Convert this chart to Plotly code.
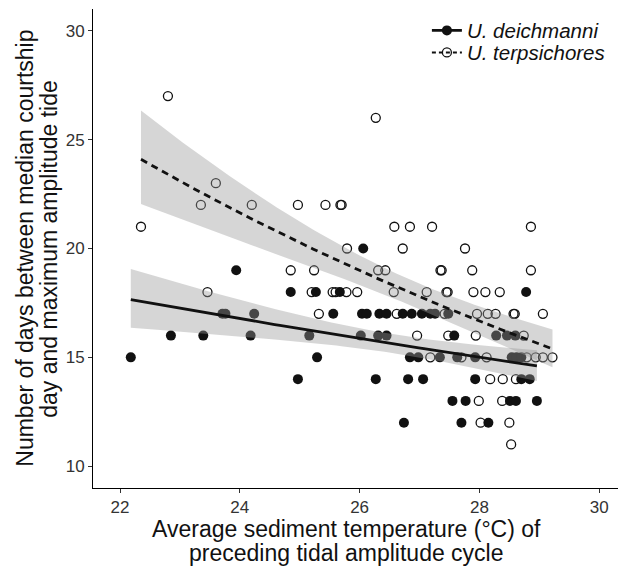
import numpy as np
import plotly.graph_objects as go

# ---- data ----
deich_temp = [22.18, 22.85, 23.39, 23.71, 23.76, 23.94, 24.18, 24.24, 24.85, 24.97,
              25.16, 25.27, 25.29, 25.56, 25.67, 26.02, 26.04, 26.12, 26.06, 26.27,
              26.31, 26.45, 26.33, 26.45, 26.74, 26.72, 26.87, 26.81, 26.84, 26.98,
              27.06, 27.04, 27.18, 27.26, 27.48, 27.34, 27.55, 27.58, 27.63, 27.70,
              27.77, 27.93, 27.93, 28.15, 28.28, 28.46, 28.51, 28.54, 28.62, 28.70,
              28.60, 28.61, 28.70, 28.84, 28.78, 28.96]
deich_days = [15, 16, 16, 17, 17, 19, 16, 17, 18, 14,
              16, 18, 15, 17, 18, 16, 17, 17, 20, 14,
              16, 16, 17, 17, 12, 17, 17, 14, 15, 15,
              14, 17, 17, 17, 17, 15, 13, 16, 15, 12,
              13, 15, 14, 12, 16, 16, 13, 15, 15, 15,
              16, 13, 14, 14, 18, 13]

terp_temp = [22.80, 22.35, 23.60, 23.35, 24.20, 23.46, 26.27, 24.97, 25.43, 25.68,
             25.70, 26.58, 26.84, 27.21, 25.79, 26.72, 24.85, 25.24, 26.31, 26.43,
             27.35, 27.37, 25.20, 25.55, 25.60, 25.78, 25.96, 26.57, 27.12, 27.45,
             27.47, 25.32, 26.62, 27.42, 26.96, 27.48, 27.18, 28.86, 27.76, 27.88,
             28.86, 27.90, 28.10, 28.34, 27.96, 28.14, 28.27, 28.57, 28.59, 29.06,
             27.94, 28.74, 27.70, 28.12, 28.79, 28.94, 29.06, 29.22, 28.18, 28.39,
             28.61, 27.99, 28.38, 28.02, 28.50, 28.53]
terp_days = [27, 21, 23, 22, 22, 18, 26, 22, 22, 22,
             22, 21, 21, 21, 20, 20, 19, 19, 19, 19,
             19, 19, 18, 18, 18, 18, 18, 18, 18, 18,
             18, 17, 17, 17, 16, 16, 15, 21, 20, 19,
             19, 18, 18, 18, 17, 17, 17, 17, 17, 17,
             16, 16, 15, 15, 15, 15, 15, 15, 14, 14,
             14, 13, 13, 12, 12, 11]

species = ["U. deichmanni", "U. terpsichores"]
x_ticks = [22, 24, 26, 28, 30]
y_ticks = [10, 15, 20, 25, 30]
x_title = ["Average sediment temperature (°C) of", "preceding tidal amplitude cycle"]
y_title = ["Number of days between median courtship", "day and maximum amplitude tide"]

FONT = "Liberation Sans, Arial, sans-serif"


def quasipoisson_band(x, y, n_grid=80, z=1.959964):
    """Quasi-Poisson GLM (log link) fitted by IRLS, 95% CI built on the link scale."""
    x = np.asarray(x, float)
    y = np.asarray(y, float)
    n = len(x)
    X = np.column_stack([np.ones_like(x), x])
    beta = np.array([np.log(y.mean()), 0.0])
    for _ in range(100):
        eta = X @ beta
        mu = np.exp(eta)
        zz = eta + (y - mu) / mu
        XtW = X.T * mu
        beta_new = np.linalg.solve(XtW @ X, XtW @ zz)
        done = np.max(np.abs(beta_new - beta)) < 1e-12
        beta = beta_new
        if done:
            break
    mu = np.exp(X @ beta)
    phi = np.sum((y - mu) ** 2 / mu) / (n - 2)
    cov = phi * np.linalg.inv((X.T * mu) @ X)
    xs = np.linspace(x.min(), x.max(), n_grid)
    G = np.column_stack([np.ones_like(xs), xs])
    eta_g = G @ beta
    se = np.sqrt(np.einsum("ij,jk,ik->i", G, cov, G))
    return xs, np.exp(eta_g), np.exp(eta_g - z * se), np.exp(eta_g + z * se)


fig = go.Figure()

# points
fig.add_trace(go.Scatter(x=deich_temp, y=deich_days, mode="markers", showlegend=False,
                         marker=dict(symbol="circle", size=10, color="#111111", line=dict(width=0))))
fig.add_trace(go.Scatter(x=terp_temp, y=terp_days, mode="markers", showlegend=False,
                         marker=dict(symbol="circle-open", size=9, color="#111111", line=dict(width=1.3))))

fits = [quasipoisson_band(deich_temp, deich_days), quasipoisson_band(terp_temp, terp_days)]

# confidence bands (drawn over the points, like ggplot)
for xs, fit, lo, hi in fits:
    fig.add_trace(go.Scatter(x=np.concatenate([xs, xs[::-1]]), y=np.concatenate([hi, lo[::-1]]),
                             fill="toself", fillcolor="rgba(153,153,153,0.4)", mode="lines",
                             line=dict(width=0), hoverinfo="skip", showlegend=False))

# fit lines
dashes = ["solid", "7px,5px"]
for (xs, fit, lo, hi), d in zip(fits, dashes):
    fig.add_trace(go.Scatter(x=xs, y=fit, mode="lines", showlegend=False,
                             line=dict(color="#111111", width=2.8, dash=d)))

# legend entries (two legends so the row spacing can be tight)
fig.add_trace(go.Scatter(x=[None], y=[None], mode="lines+markers", name=species[0], legend="legend",
                         line=dict(color="#111111", width=2.8, dash="solid"),
                         marker=dict(symbol="circle", size=10, color="#111111")))
fig.add_trace(go.Scatter(x=[None], y=[None], mode="lines+markers", name=species[1], legend="legend2",
                         line=dict(color="#111111", width=2.0, dash="4px,3px"),
                         marker=dict(symbol="circle-open", size=9, color="#111111", line=dict(width=1.3))))

axis_common = dict(showline=True, linecolor="black", linewidth=1, ticks="outside", ticklen=4,
                   tickcolor="#333333", tickwidth=1, showgrid=False, zeroline=False,
                   tickfont=dict(family=FONT, size=17, color="#333333"))

legend_font = dict(family=FONT, size=20.5, color="#111111", style="italic")
fig.update_layout(
    width=620, height=573,
    margin=dict(l=93, r=2, t=9, b=85),
    paper_bgcolor="white", plot_bgcolor="white",
    font=dict(family=FONT, color="#111111"),
    xaxis=dict(range=[21.549, 30.314], tickvals=x_ticks, **axis_common),
    yaxis=dict(range=[9.0, 31.0], tickvals=y_ticks, **axis_common),
    legend=dict(x=0.636, y=0.955, xanchor="left", yanchor="middle", bgcolor="rgba(0,0,0,0)",
                font=legend_font, itemwidth=30),
    legend2=dict(x=0.636, y=0.909, xanchor="left", yanchor="middle", bgcolor="rgba(0,0,0,0)",
                 font=legend_font, itemwidth=30),
)

# axis titles as separate lines (tight line spacing)
for i, txt in enumerate(x_title):
    fig.add_annotation(text=txt, xref="paper", yref="paper", x=0.4838, y=-0.0866 - 0.0501 * i,
                       xanchor="center", yanchor="middle", showarrow=False,
                       font=dict(family=FONT, size=23, color="#111111"))
for i, txt in enumerate(y_title):
    fig.add_annotation(text=txt, xref="paper", yref="paper", x=-0.1310 + 0.0457 * i, y=0.5,
                       xanchor="center", yanchor="middle", textangle=-90, showarrow=False,
                       font=dict(family=FONT, size=23, color="#111111"))

fig.write_html("out.html", config={"displayModeBar": False},
               post_script="document.body.style.margin='0px';")
